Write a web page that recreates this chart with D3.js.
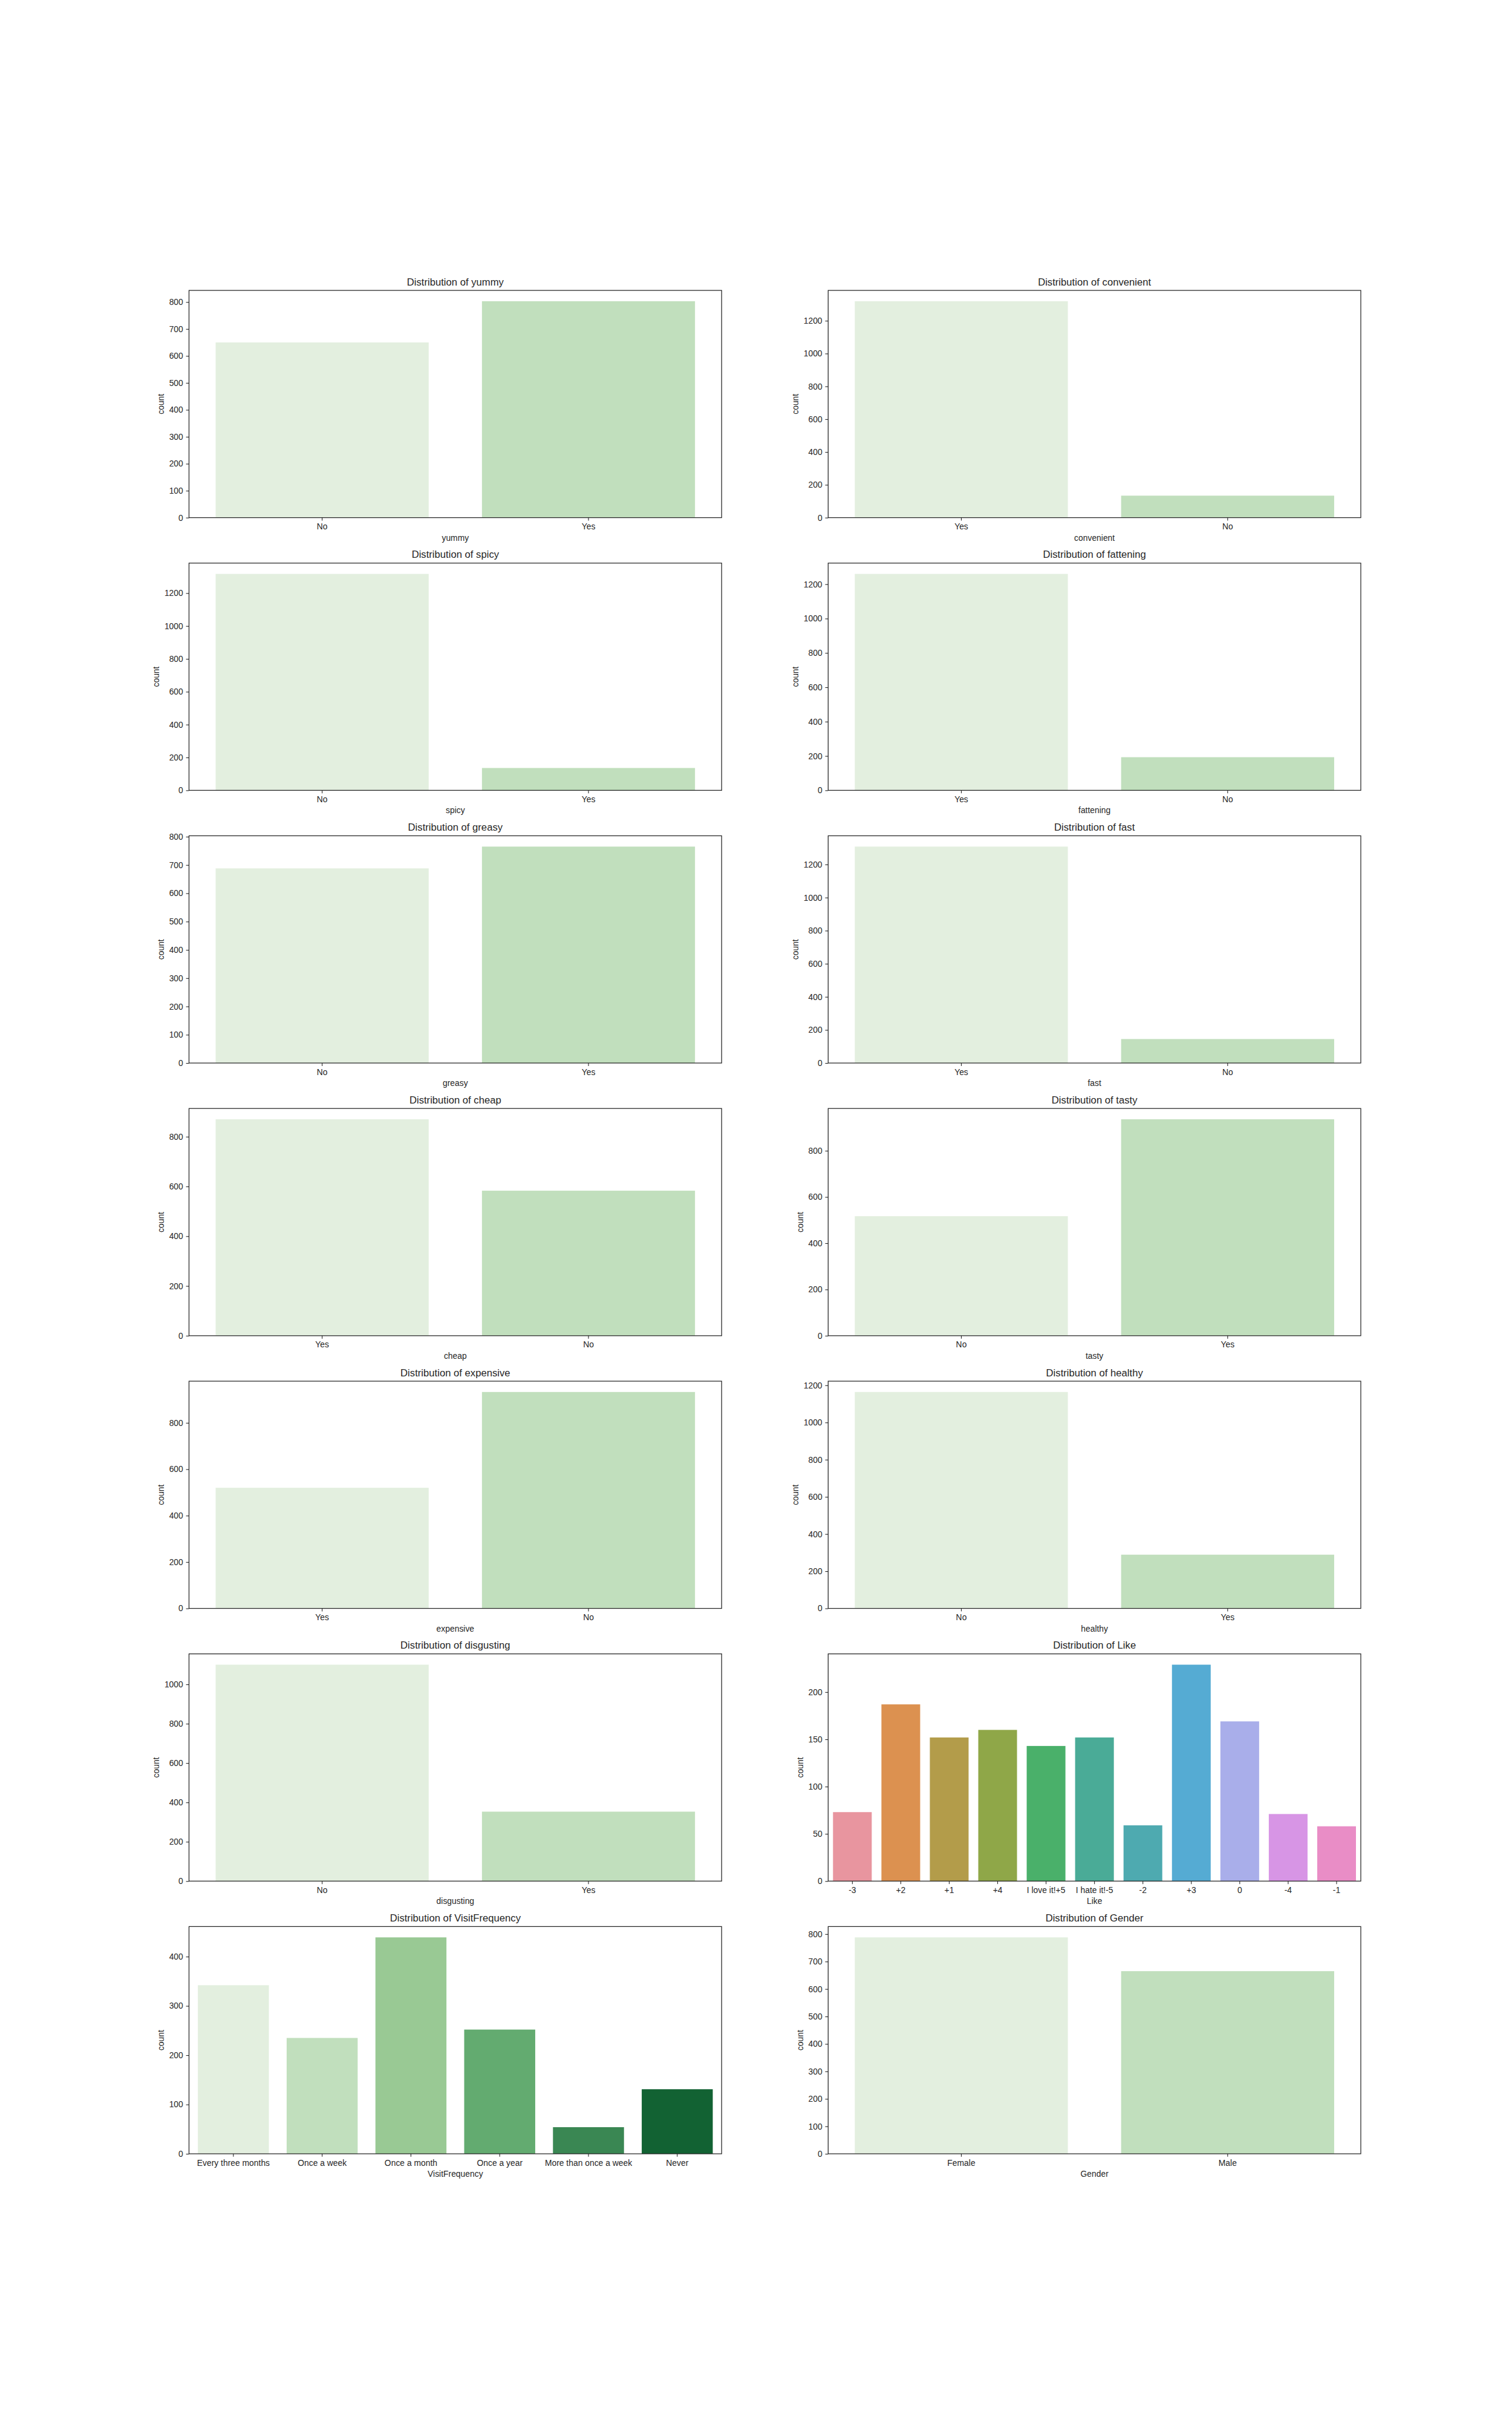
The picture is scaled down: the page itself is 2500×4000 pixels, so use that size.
<!DOCTYPE html>
<html>
<head>
<meta charset="utf-8">
<script src="https://cdn.jsdelivr.net/npm/d3@7"></script>
<style>
    body { margin: 0; background: #fff; }
    text { font-family: "Liberation Sans", Arial, sans-serif; fill: #262626; }
</style>
</head>
<body>
<svg id="fig"></svg>
<script>
// ---- data: one pair of arrays per column ----
const yummyCats = ["No", "Yes"];
const yummyCounts = [650, 803];
const convenientCats = ["Yes", "No"];
const convenientCounts = [1319, 134];
const spicyCats = ["No", "Yes"];
const spicyCounts = [1317, 136];
const fatteningCats = ["Yes", "No"];
const fatteningCounts = [1260, 193];
const greasyCats = ["No", "Yes"];
const greasyCounts = [688, 765];
const fastCats = ["Yes", "No"];
const fastCounts = [1308, 145];
const cheapCats = ["Yes", "No"];
const cheapCounts = [870, 583];
const tastyCats = ["No", "Yes"];
const tastyCounts = [517, 936];
const expensiveCats = ["Yes", "No"];
const expensiveCounts = [520, 933];
const healthyCats = ["No", "Yes"];
const healthyCounts = [1164, 289];
const disgustingCats = ["No", "Yes"];
const disgustingCounts = [1100, 353];
const likeCats = ["-3", "+2", "+1", "+4", "I love it!+5", "I hate it!-5", "-2", "+3", "0", "-4", "-1"];
const likeCounts = [73, 187, 152, 160, 143, 152, 59, 229, 169, 71, 58];
const visitCats = ["Every three months", "Once a week", "Once a month", "Once a year", "More than once a week", "Never"];
const visitCounts = [342, 235, 439, 252, 54, 131];
const genderCats = ["Female", "Male"];
const genderCounts = [788, 665];

// seaborn "Greens" (6 colours, desaturated) and husl(11) palettes
const greens = ["#e3efdf", "#c1dfbd", "#99c994", "#63ab70", "#3a8753", "#126233"];
const husl = ["#e8959f", "#dc9150", "#b39c4a", "#8fa748", "#4ab06a", "#4aab97",
              "#4eaab0", "#55abd3", "#a9aeea", "#d795e5", "#e98dc6"];

const panels = [
    { name: "yummy", cats: yummyCats, counts: yummyCounts, palette: greens },
    { name: "convenient", cats: convenientCats, counts: convenientCounts, palette: greens },
    { name: "spicy", cats: spicyCats, counts: spicyCounts, palette: greens },
    { name: "fattening", cats: fatteningCats, counts: fatteningCounts, palette: greens },
    { name: "greasy", cats: greasyCats, counts: greasyCounts, palette: greens },
    { name: "fast", cats: fastCats, counts: fastCounts, palette: greens },
    { name: "cheap", cats: cheapCats, counts: cheapCounts, palette: greens },
    { name: "tasty", cats: tastyCats, counts: tastyCounts, palette: greens },
    { name: "expensive", cats: expensiveCats, counts: expensiveCounts, palette: greens },
    { name: "healthy", cats: healthyCats, counts: healthyCounts, palette: greens },
    { name: "disgusting", cats: disgustingCats, counts: disgustingCounts, palette: greens },
    { name: "Like", cats: likeCats, counts: likeCounts, palette: husl },
    { name: "VisitFrequency", cats: visitCats, counts: visitCounts, palette: greens },
    { name: "Gender", cats: genderCats, counts: genderCounts, palette: greens },
];

// ---- layout (matplotlib default subplot params, 25x40in @ 100dpi) ----
const WIDTH = 2500, HEIGHT = 4000;
const PT = 100 / 72;
const LEFT = 0.125 * WIDTH, RIGHT = 0.9 * WIDTH;
const TOP = 0.12 * HEIGHT, BOTTOM = 0.89 * HEIGHT;
const AX_W = (RIGHT - LEFT) / 2.2;
const AX_H = (BOTTOM - TOP) / 8.2;
const TICK = 3.5 * PT, PAD = 3.5 * PT;
const TICK_FONT = 10 * PT, TITLE_FONT = 12 * PT;

const svg = d3.select("#fig").attr("width", WIDTH).attr("height", HEIGHT);

// mimic MaxNLocator(nbins=9, steps=[1, 2, 2.5, 5, 10])
function tickStep(vmax) {
    let raw = vmax / 9;
    let mag = Math.pow(10, Math.floor(Math.log10(raw)));
    for (let s of [1, 2, 2.5, 5, 10]) {
        if (s * mag >= raw - 1e-9) return s * mag;
    }
    return 10 * mag;
}

panels.forEach((p, i) => {
    let col = i % 2, row = Math.floor(i / 2);
    let x0 = LEFT + col * AX_W * 1.2;
    let y0 = TOP + row * AX_H * 1.2;

    let g = svg.append("g").attr("transform", `translate(${x0}, ${y0})`);

    let ymax = d3.max(p.counts) * 1.05;
    let x = d3.scaleBand().domain(p.cats).range([0, AX_W])
        .paddingInner(0.2).paddingOuter(0.1);
    let y = d3.scaleLinear().domain([0, ymax]).range([AX_H, 0]);

    let step = tickStep(ymax);
    let ticks = d3.range(0, ymax + 1e-9, step);

    // bars
    g.selectAll("rect.bar")
        .data(p.cats)
        .join("rect")
        .attr("class", "bar")
        .attr("x", d => x(d))
        .attr("width", x.bandwidth())
        .attr("y", (d, k) => y(p.counts[k]))
        .attr("height", (d, k) => AX_H - y(p.counts[k]))
        .attr("fill", (d, k) => p.palette[k % p.palette.length]);

    // axes
    let yAxis = g.append("g")
        .call(d3.axisLeft(y).tickValues(ticks).tickFormat(d3.format("d"))
            .tickSize(TICK).tickPadding(PAD));
    let xAxis = g.append("g")
        .attr("transform", `translate(0, ${AX_H})`)
        .call(d3.axisBottom(x).tickSize(TICK).tickPadding(PAD));

    [yAxis, xAxis].forEach(a => {
        a.select(".domain").remove();
        a.selectAll(".tick line").attr("stroke", "#262626").attr("stroke-width", 1.1);
        a.selectAll(".tick text")
            .attr("fill", "#262626")
            .attr("font-size", TICK_FONT)
            .attr("font-family", "'Liberation Sans', Arial, sans-serif");
    });

    // frame
    g.append("rect")
        .attr("width", AX_W)
        .attr("height", AX_H)
        .attr("fill", "none")
        .attr("stroke", "#262626")
        .attr("stroke-width", 1.25);

    // labels
    let maxW = d3.max(yAxis.selectAll(".tick text").nodes(), n => n.getComputedTextLength());

    g.append("text")
        .attr("x", AX_W / 2)
        .attr("y", AX_H + 38)
        .attr("text-anchor", "middle")
        .attr("font-size", TICK_FONT)
        .text(p.name);

    let yl = -(TICK + PAD + maxW + 4 * PT + 2.9);
    g.append("text")
        .attr("transform", `translate(${yl}, ${AX_H / 2}) rotate(-90)`)
        .attr("text-anchor", "middle")
        .attr("font-size", TICK_FONT)
        .text("count");

    g.append("text")
        .attr("x", AX_W / 2)
        .attr("y", -6 * PT)
        .attr("text-anchor", "middle")
        .attr("font-size", TITLE_FONT)
        .text(`Distribution of ${p.name}`);
});
</script>
</body>
</html>
